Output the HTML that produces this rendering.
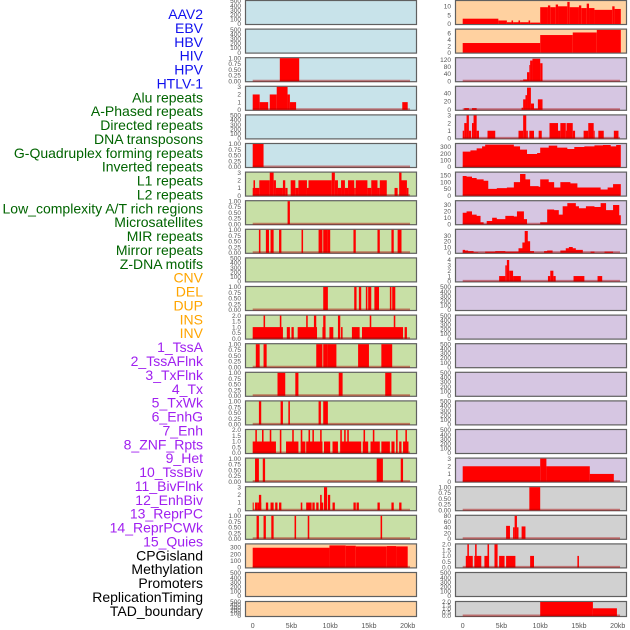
<!DOCTYPE html>
<html><head><meta charset="utf-8"><style>
html,body{margin:0;padding:0;background:#fff;}
svg{display:block;font-family:"Liberation Sans",sans-serif;}
</style></head><body>
<svg id="chart" width="630" height="630" viewBox="0 0 630 630" xmlns="http://www.w3.org/2000/svg">
<g id="labels"></g>
<g id="panels"></g>
<g id="xaxes"></g>
</svg>
<script>
const trackLabels = ["AAV2","EBV","HBV","HIV","HPV","HTLV-1","Alu repeats","A-Phased repeats","Directed repeats","DNA transposons","G-Quadruplex forming repeats","Inverted repeats","L1 repeats","L2 repeats","Low_complexity A/T rich regions","Microsatellites","MIR repeats","Mirror repeats","Z-DNA motifs","CNV","DEL","DUP","INS","INV","1_TssA","2_TssAFlnk","3_TxFlnk","4_Tx","5_TxWk","6_EnhG","7_Enh","8_ZNF_Rpts","9_Het","10_TssBiv","11_BivFlnk","12_EnhBiv","13_ReprPC","14_ReprPCWk","15_Quies","CPGisland","Methylation","Promoters","ReplicationTiming","TAD_boundary"];
const labelGroups = [6,13,5,15,5];
const xTickValues = [0,5,10,15,20];
const xTickLabels = ["0","5kb","10kb","15kb","20kb"];

// segments: [startKb, endKb, value]
const segL3 = [[3.5,6.0,1]];
const segL4 = [[0,0.9,2],[0.9,2.0,1],[2.2,3.1,2],[3.1,4.5,3],[4.5,4.8,2],[4.8,5.6,1],[19.3,20,1]];
const segL6 = [[0,1.4,1]];
const segL7 = [[0,0.1,1],[0.1,0.3,2],[0.3,0.85,1],[0.85,2.2,2],[2.2,2.7,3],[2.7,3.0,2],[3.0,3.9,1],[3.9,4.2,2],[4.2,4.5,1],[4.9,5.5,2],[5.5,5.9,1],[5.9,7.0,2],[7.0,7.2,1],[7.2,10.2,2],[10.2,10.6,3],[10.6,11.0,2],[11.0,11.4,1],[11.4,11.9,2],[11.9,12.3,1],[12.3,13.1,2],[13.1,13.3,1],[13.3,14.8,2],[14.8,15.3,1],[15.3,16.1,2],[16.1,16.4,1],[16.4,17.3,2],[18.3,18.7,1],[18.9,19.2,3],[19.2,19.9,2],[19.9,20.1,1]];
const segL8 = [[4.5,4.8,1]];
const segL9 = [[0.8,1.0,1],[1.7,2.1,1],[2.3,2.7,1],[3.4,3.7,1],[6.3,6.5,1],[8.5,9.0,1],[9.1,9.7,1],[9.7,10.0,1],[13.0,13.3,1],[16.1,16.4,1],[17.9,18.2,1],[18.7,19.2,1]];
const segL11 = [[9.1,9.7,1],[13.1,13.4,1],[13.7,14.0,1],[14.6,14.8,1],[14.9,15.3,1],[15.7,16.3,1],[17.7,17.9,1],[18.0,18.4,1]];
const segL12 = [[0,3.9,1],[4.4,4.8,1],[5.0,5.3,1],[5.8,8.3,1],[9.0,9.4,1],[9.9,10.4,1],[11.4,11.6,1],[12.8,13.8,1],[14.1,19.4,1],[19.6,19.9,1],[1.4,1.6,2],[3.5,3.7,2],[6.9,7.1,2],[7.9,8.2,2],[9.1,9.4,2],[11.0,11.3,2],[15.1,15.3,2],[18.2,18.4,2]];
const segL13 = [[0.4,0.9,1],[1.4,1.8,1],[8.2,9.0,1],[9.1,9.7,1],[9.7,10.8,1],[13.6,15.0,1],[16.6,18.0,1]];
const segL14 = [[3.2,4.2,1],[5.5,5.9,1],[11.1,11.6,1],[17.1,17.9,1]];
const segL15 = [[0.8,1.1,1],[3.6,3.9,1],[4.6,4.8,1],[8.5,8.8,1],[9.1,9.7,1]];
const segL16 = [[0,3.0,1],[4.3,5.9,1],[6.2,6.8,1],[6.9,9.0,1],[9.2,10.0,1],[10.3,11.0,1],[11.3,14.0,1],[14.2,14.9,1],[15.2,16.4,1],[16.6,17.7,1],[17.9,18.3,1],[18.9,19.2,1],[19.4,20.1,1],[0.34,0.54,2],[1.2,1.4,2],[2.2,2.4,2],[3.5,3.7,2],[5.1,5.3,2],[6.2,6.4,2],[7.2,7.4,2],[7.7,7.9,2],[8.7,8.9,2],[11.3,11.5,2],[11.8,12.0,2],[12.2,12.4,2],[14.3,14.5,2],[15.5,15.7,2],[18.5,18.7,2],[19.7,19.9,2]];
const segL17 = [[0.3,0.8,1],[1.3,1.6,1],[16.0,16.8,1],[19.1,19.4,1]];
const segL18 = [[0,0.1,1],[0.3,0.6,1],[0.6,1.1,1],[0.8,1.1,2],[1.7,2.0,1],[2.3,2.7,1],[2.9,3.2,1],[3.4,3.7,1],[6.2,6.4,1],[6.9,7.6,1],[7.7,8.0,1],[8.2,8.5,1],[8.7,9.1,1],[8.7,8.9,2],[9.2,9.6,3],[9.7,10.0,2],[10.3,10.6,1],[13.0,13.3,1],[13.4,13.7,1],[16.1,16.4,1],[17.9,18.2,1],[18.9,19.2,1]];
const segL19 = [[0.5,0.8,1],[1.4,1.7,1],[2.4,2.7,1],[5.4,5.6,1],[7.1,7.3,1],[16.5,16.7,1]];
const segL20 = [[0,9.9,295],[9.9,12.0,330],[12.0,13.3,325],[13.3,17.3,315],[17.3,18.5,320],[18.5,20.0,315]];

const segR1 = [[0,4.6,3],[4.6,5.7,2],[5.7,6.3,1],[6.3,6.5,2],[6.5,7.2,1],[7.2,7.4,2],[7.4,8.5,1],[8.5,8.7,2],[8.7,10.0,0.8],[10.0,11.0,9.5],[11.0,11.3,10.5],[11.3,12.0,9.5],[12.0,12.3,11],[12.3,13.5,10],[13.5,13.8,12.5],[13.8,15.0,9.5],[15.0,15.3,10.5],[15.3,16.0,9],[16.0,16.3,11.5],[16.3,17.0,9],[17.0,19.3,8],[19.3,19.6,10],[19.6,20.4,8.5]];
const segR2 = [[0,10,3],[10,14.2,5.5],[14.2,17.3,6.3],[17.3,20.4,7.1]];
const segR3 = [[7.4,7.8,3],[7.8,8.3,10],[8.3,8.6,50],[8.6,8.7,90],[8.7,9.0,115],[9.0,10.0,125],[10.0,10.3,100]];
const segR4 = [[0.2,0.8,4],[1.2,1.8,4],[7.6,7.8,5],[7.8,8.1,25],[8.1,8.3,35],[8.3,8.8,53],[8.8,9.2,15],[9.2,9.7,3],[9.7,10.3,25]];
const segR5 = [[0,0.2,1],[0.2,0.5,2],[0.5,0.8,3],[0.8,1.1,1],[1.2,1.4,2],[1.4,1.8,3],[1.8,2.1,1],[3.2,4.2,1],[7.2,7.8,1],[7.8,8.2,3],[8.2,8.4,1],[8.6,9.2,1],[9.8,10.2,1],[11.2,12.3,2],[12.3,12.6,1],[12.6,13.3,2],[13.3,13.4,1],[13.4,14.2,2],[14.2,14.5,1],[15.6,16.2,1],[16.2,16.9,2],[16.9,17.0,1],[17.5,18.2,1],[19.5,20.1,1]];
// step profiles: breakpoint positions (kb) and values
const profR6Kb = [0,1.0,1.8,2.5,2.9,5.7,6.6,7.4,8.3,9.6,10.0,11.1,12.2,13.5,14.4,15.7,17.0,18.1,19.1,19.8,20.4];
const profR6Val = [230,250,280,310,335,335,310,260,195,210,290,320,290,270,300,310,325,330,310,330];
const profR7Kb = [0,0.5,1.2,1.8,2.7,3.3,4.4,5.7,6.6,7.4,8.1,8.7,9.8,10.0,11.1,11.8,12.6,13.9,14.8,17.0,17.8,18.7,19.4,20.4];
const profR7Val = [145,140,130,120,110,50,55,60,100,160,120,70,65,120,100,60,100,90,60,60,45,60,85];
const profR8Kb = [0,0.5,1.2,1.8,2.3,2.7,3.1,3.8,4.4,5.5,6.6,7.0,7.4,7.9,8.3,10.0,10.9,11.8,12.4,12.9,13.5,14.6,15.0,15.9,17.0,17.8,18.5,19.4,20.2,20.4];
const profR8Val = [18,20,15,13,3,0,5,10,8,13,12,20,20,8,0,3,23,22,15,28,33,28,25,28,27,33,22,30,14];
const profR9Kb = [0,0.3,0.7,1.4,2.0,2.9,4.2,5.5,6.8,7.2,7.7,8.0,8.4,8.7,9.2,10.5,10.9,11.6,12.6,13.3,13.7,14.2,14.6,15.5,16.5,17.0,18.3,19.4,20.4];
const profR9Val = [5,4,3,1,0,2,3,2,2,8,18,38,20,3,0,3,4,0,4,8,10,8,5,0,2,0,2,0];
const segR10 = [[4.7,5.5,1],[5.5,5.7,3],[5.7,6.0,4],[6.0,6.5,2],[6.5,7.5,1],[11.0,11.3,1],[11.3,11.7,2],[11.7,12.0,1],[14.3,15.7,1],[17.4,18.0,1]];
const segR17 = [[0,10,2],[10,10.8,3],[10.8,16.4,2],[16.4,19.5,1]];
const segR18 = [[8.6,10.0,1]];
const segR19 = [[5.6,6.1,45],[6.5,6.7,40],[6.7,7.0,80],[7.0,7.2,40],[7.6,8.1,43]];
const segR20 = [[0.4,1.3,1],[0.6,0.8,2],[1.5,2.4,1],[1.6,1.8,2],[2.8,3.4,1],[3.2,3.4,2],[4.1,4.5,2],[4.7,5.4,1],[5.6,6.8,1],[8.7,9.2,1],[14.8,15.0,1]];
const segR22 = [[10.0,16.8,2],[16.8,19.9,1.1]];

const E = null;
const T500 = ["0","100","200","300","400","500"];
const T1 = ["0.00","0.25","0.50","0.75","1.00"];
const T2 = ["0.0","0.5","1.0","1.5","2.0"];
const T3 = ["0","1","2","3"];
const BLUE="#c8e3ea", GREEN="#c8e0a6", ORANGE="#ffd1a0", PURPLE="#d6c6e2", GREY="#d1d1d1";
// [segments, profileKb, profileVal, ticks, ymax, bg]
const leftPanels = [
 [E,E,E,T500,500,BLUE],[E,E,E,T500,500,BLUE],[segL3,E,E,T1,1,BLUE],[segL4,E,E,T3,3,BLUE],[E,E,E,T500,500,BLUE],[segL6,E,E,T1,1,BLUE],
 [segL7,E,E,T3,3,GREEN],[segL8,E,E,T1,1,GREEN],[segL9,E,E,T1,1,GREEN],[E,E,E,T500,500,GREEN],[segL11,E,E,T1,1,GREEN],[segL12,E,E,T2,2,GREEN],
 [segL13,E,E,T1,1,GREEN],[segL14,E,E,T1,1,GREEN],[segL15,E,E,T1,1,GREEN],[segL16,E,E,T2,2,GREEN],[segL17,E,E,T1,1,GREEN],[segL18,E,E,T3,3,GREEN],
 [segL19,E,E,T1,1,GREEN],[segL20,E,E,["0","100","200","300"],345,ORANGE],[E,E,E,T500,500,ORANGE],[E,E,E,T500,500,ORANGE]
];
const rightPanels = [
 [segR1,E,E,["0","5","10"],13,ORANGE],[segR2,E,E,["0","2","4","6"],7.2,ORANGE],[segR3,E,E,["0","40","80","120"],128,PURPLE],[segR4,E,E,["0","20","40"],55,PURPLE],
 [segR5,E,E,T3,3,PURPLE],[E,profR6Kb,profR6Val,["0","100","200","300"],345,PURPLE],[E,profR7Kb,profR7Val,["0","50","100","150"],170,PURPLE],
 [E,profR8Kb,profR8Val,["0","10","20","30"],36,PURPLE],[E,profR9Kb,profR9Val,["0","10","20","30"],40,PURPLE],[segR10,E,E,["0","1","2","3","4"],4.3,PURPLE],
 [E,E,E,T500,500,PURPLE],[E,E,E,T500,500,PURPLE],[E,E,E,T500,500,PURPLE],[E,E,E,T500,500,PURPLE],[E,E,E,T500,500,PURPLE],[E,E,E,T500,500,PURPLE],
 [segR17,E,E,T3,3,PURPLE],[segR18,E,E,T1,1,GREY],[segR19,E,E,["0","20","40","60","80"],80,GREY],[segR20,E,E,T2,2,GREY],[E,E,E,T500,500,GREY],[segR22,E,E,T2,2,GREY]
];

const NS="http://www.w3.org/2000/svg";
function mk(tag, attrs, parent){const e=document.createElementNS(NS,tag);for(const k in attrs)e.setAttribute(k,attrs[k]);parent.appendChild(e);return e;}

// labels
const lg=document.getElementById('labels');
const groupColors=["#1010ee","#006400","#ffa500","#a020f0","#000000"];
let gi=0,cnt=0;
trackLabels.forEach((t,i)=>{
  while(cnt>=labelGroups[gi]){cnt=0;gi++;}
  cnt++;
  const tx=mk('text',{x:203,y:14+i*13.88+5,'text-anchor':'end','font-size':'14',fill:groupColors[gi]},lg);
  
  
  tx.textContent=t;
});

const pg=document.getElementById('panels');
function rowGeom(i){ if(i===21) return [601,16]; return [i*28.6,25]; }
function drawCol(panels, L, side){
  const W=171, x0=L+7.7, sx=7.75;
  const xs=kb=>x0+kb*sx;
  panels.forEach((p,i)=>{
    const [seg,pk,pv,ticks,ymax,bg]=p;
    const [top,h]=rowGeom(i);
    const bot=top+h-1, inner=h-2;
    const ys=v=>bot-v/ymax*inner;
    const g=mk('g',{},pg);
    
    
    mk('rect',{x:L+0.5,y:top+0.5,width:W,height:h-1,fill:bg,stroke:'#606060','stroke-width':1.2},g);
    const empty=!seg&&!pk;
    if(seg){
      seg.forEach(s=>{
        const r=mk('rect',{x:xs(s[0]),y:ys(s[2]),width:Math.max(xs(s[1])-xs(s[0]),1),height:bot-ys(s[2]),fill:'#ff0000'},g);
        
        
      });
    }
    if(pk){
      let d='M'+xs(pk[0])+','+bot;
      for(let k=0;k<pv.length;k++){d+=' L'+xs(pk[k])+','+ys(pv[k])+' L'+xs(pk[k+1])+','+ys(pv[k]);}
      d+=' L'+xs(pk[pk.length-1])+','+bot+' Z';
      const pa=mk('path',{d:d,fill:'#ff0000'},g);
      
      
    }
    if(!empty && i>1){
      const bl=mk('line',{x1:xs(0),x2:xs(20.3),y1:bot-0.5,y2:bot-0.5,stroke:'rgba(170,0,0,0.45)','stroke-width':2},g);
      
      
    }
    const n=ticks.length;
    ticks.forEach((t,k)=>{
      const v=parseFloat(t);
      const maxT=parseFloat(ticks[n-1]);
      const yv= ymax===500? bot-v/500*inner : ys(v);
      const tt=mk('text',{x:L-4,y:yv+2.2,'text-anchor':'end','font-size':n>=6?'6.5':'6.5',fill:'#555'},g);
      
      
      tt.textContent=t;
    });
  });
  const xg=document.getElementById('xaxes');
  xTickValues.forEach((v,k)=>{
    const t=mk('text',{x:xs(v),y:628,'text-anchor':'middle','font-size':'7',fill:'#555'},xg);
    
    
    t.textContent=xTickLabels[k];
  });
}
drawCol(leftPanels,245,'left');
drawCol(rightPanels,455,'right');
</script>
</body></html>
